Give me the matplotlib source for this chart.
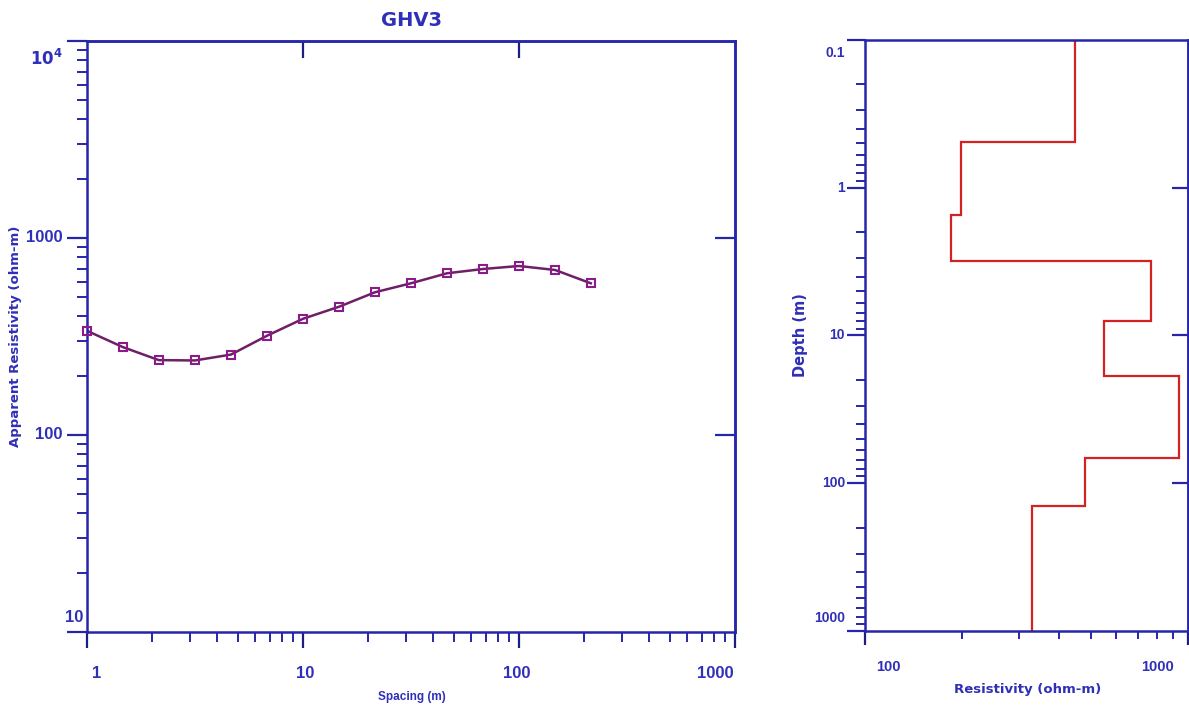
import numpy as np
import matplotlib
matplotlib.use("Agg")
import matplotlib.pyplot as plt
from matplotlib.ticker import LogLocator, NullLocator, NullFormatter
from matplotlib.transforms import offset_copy

### Data
spacing = [1, 1.47, 2.15, 3.16, 4.64, 6.81, 10, 14.7, 21.5, 31.6, 46.4, 68.1, 100, 147, 215]
app_res = [338, 279, 240, 239, 256, 319, 389, 448, 530, 589, 662, 696, 721, 688, 589]

layer_res = [447, 198, 184, 767, 548, 938, 481, 328]
layer_edges = [0.1, 0.49, 1.53, 3.12, 7.94, 18.8, 67.5, 142, 1000]

left_ylabels = ["10", "100", "1000", r"$\mathbf{10^{4}}$"]
left_yvals = [10, 100, 1000, 10000]
left_xlabels = ["1", "10", "100", "1000"]
left_xvals = [1, 10, 100, 1000]
right_ylabels = ["0.1", "1", "10", "100", "1000"]
right_yvals = [0.1, 1, 10, 100, 1000]
right_xlabels = ["100", "1000"]
right_xvals = [100, 1000]

blue = "#2626aa"
txt_blue = "#2f2fb8"
px = 0.72  # points per pixel at dpi 100

fig = plt.figure(figsize=(11.89, 7.09), dpi=100)

### Left panel: sounding curve
ax = fig.add_axes([87 / 1189, 1 - 632 / 709, 648 / 1189, 591 / 709])
ax.set_xscale("log")
ax.set_yscale("log")
ax.set_xlim(1, 1000)
ax.set_ylim(10, 10000)

ax.plot(spacing, app_res, color="#6e1f66", lw=1.8, zorder=2)
ax.plot(spacing, app_res, ls="none", marker="s", ms=6, mfc="none",
        mec="#8b1a8b", mew=1.5, zorder=3, clip_on=False)

for s in ax.spines.values():
    s.set_color(blue)
    s.set_linewidth(1.8)
ax.xaxis.set_minor_locator(LogLocator(base=10, subs=np.arange(2, 10)))
ax.yaxis.set_minor_locator(LogLocator(base=10, subs=np.arange(2, 10)))
ax.xaxis.set_minor_formatter(NullFormatter())
ax.yaxis.set_minor_formatter(NullFormatter())
ax.tick_params(axis="y", which="major", direction="out", length=20 * px, width=1.6,
               color=blue, labelleft=False)
ax.tick_params(axis="y", which="minor", direction="out", length=10 * px, width=1.4,
               color=blue)
ax.tick_params(axis="x", which="major", direction="out", length=16 * px, width=1.6,
               color="#1e1e80", labelbottom=False)
ax.tick_params(axis="x", which="minor", direction="out", length=10 * px, width=1.4,
               color=blue)

# inward major ticks on the opposite sides
secy = ax.secondary_yaxis("right")
secy.set_yticks([100, 1000])
secy.yaxis.set_minor_locator(NullLocator())
secy.tick_params(direction="in", length=20 * px, width=1.6, color=blue, labelright=False)
secy.spines["right"].set_color(blue)
secy.spines["right"].set_linewidth(1.8)
secx = ax.secondary_xaxis("top")
secx.set_xticks([10, 100])
secx.xaxis.set_minor_locator(NullLocator())
secx.tick_params(direction="in", length=17 * px, width=1.6, color="#1e1e80", labeltop=False)
secx.spines["top"].set_color(blue)
secx.spines["top"].set_linewidth(1.8)

# tick labels
yoff = [15, 0, 0, -17]
xo = [-4, -24, -24, -24]
for v, lab, dy, dx in zip(left_yvals, left_ylabels, yoff, xo):
    tr = offset_copy(ax.get_yaxis_transform(), fig=fig, x=dx * px, y=dy * px, units="points")
    ax.text(0, v, lab, transform=tr, ha="right", va="center", fontsize=12,
            fontweight="bold", family="Liberation Sans", color=txt_blue, clip_on=False)
xoff = [10, 2, -2, -20]
for v, lab, dx in zip(left_xvals, left_xlabels, xoff):
    tr = offset_copy(ax.get_xaxis_transform(), fig=fig, x=dx * px, y=-41 * px, units="points")
    ax.text(v, 0, lab, transform=tr, ha="center", va="center", fontsize=12,
            fontweight="bold", family="Liberation Sans", color=txt_blue, clip_on=False)

fig.text(412 / 1189, 1 - 20 / 709, "GHV3", ha="center", va="center", fontsize=14,
         fontweight="bold", color=txt_blue)
fig.text(412 / 1189, 1 - 697 / 709, "Spacing (m)", ha="center", va="center", fontsize=8.5,
         fontweight="bold", family="Liberation Sans", color=txt_blue)
fig.text(16 / 1189, 1 - 336 / 709, "Apparent Resistivity (ohm-m)", ha="center", va="center",
         rotation=90, fontsize=9.5, fontweight="bold", color=txt_blue)

### Right panel: layered model
ax2 = fig.add_axes([865 / 1189, 1 - 631 / 709, 323 / 1189, 591 / 709])
ax2.set_xscale("log")
ax2.set_yscale("log")
ax2.set_xlim(100, 1000)
ax2.set_ylim(1000, 0.1)

ax2.stairs(layer_res, layer_edges, orientation="horizontal", baseline=None,
           color="#d42222", lw=1.6)

for s in ax2.spines.values():
    s.set_color(blue)
    s.set_linewidth(1.8)
ax2.xaxis.set_minor_locator(LogLocator(base=10, subs=np.arange(2, 10)))
ax2.yaxis.set_minor_locator(LogLocator(base=10, subs=np.arange(2, 10)))
ax2.xaxis.set_minor_formatter(NullFormatter())
ax2.yaxis.set_minor_formatter(NullFormatter())
ax2.tick_params(axis="y", which="major", direction="out", length=18 * px, width=1.6,
                color=blue, labelleft=False)
ax2.tick_params(axis="y", which="minor", direction="out", length=9 * px, width=1.4,
                color=blue)
ax2.tick_params(axis="x", which="major", direction="out", length=14 * px, width=1.6,
                color="#1e1e80", labelbottom=False)
ax2.tick_params(axis="x", which="minor", direction="out", length=8 * px, width=1.4,
                color=blue)

secy2 = ax2.secondary_yaxis("right")
secy2.set_yticks([1, 10, 100])
secy2.yaxis.set_minor_locator(NullLocator())
secy2.tick_params(direction="in", length=16 * px, width=1.6, color=blue, labelright=False)
secy2.spines["right"].set_color(blue)
secy2.spines["right"].set_linewidth(1.8)

yoff2 = [-13, 0, 0, 0, 13]
for v, lab, dy in zip(right_yvals, right_ylabels, yoff2):
    tr = offset_copy(ax2.get_yaxis_transform(), fig=fig, x=-20 * px, y=dy * px, units="points")
    ax2.text(0, v, lab, transform=tr, ha="right", va="center", fontsize=10,
             fontweight="bold", family="Liberation Sans", color=txt_blue, clip_on=False)
xoff2 = [23, -30]
for v, lab, dx in zip(right_xvals, right_xlabels, xoff2):
    tr = offset_copy(ax2.get_xaxis_transform(), fig=fig, x=dx * px, y=-36 * px, units="points")
    ax2.text(v, 0, lab, transform=tr, ha="center", va="center", fontsize=10.5,
             fontweight="bold", family="Liberation Sans", color=txt_blue, clip_on=False)

fig.text(1028 / 1189, 1 - 690 / 709, "Resistivity (ohm-m)", ha="center", va="center",
         fontsize=9.5, fontweight="bold", color=txt_blue)
fig.text(800 / 1189, 1 - 335 / 709, "Depth (m)", ha="center", va="center", rotation=90,
         fontsize=10.5, fontweight="bold", color=txt_blue)

fig.savefig("out.png", dpi=100)
